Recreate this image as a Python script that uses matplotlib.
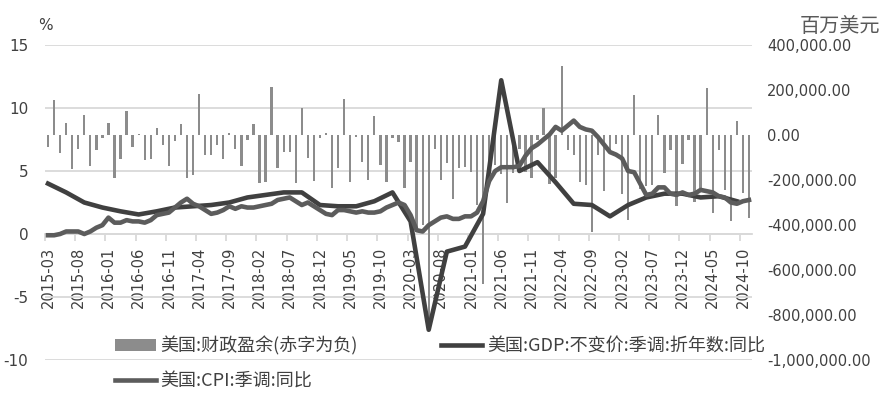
import matplotlib
matplotlib.use("Agg")
import matplotlib.pyplot as plt
from matplotlib.patches import Patch
from matplotlib.lines import Line2D
from matplotlib.ticker import FuncFormatter
import numpy as np
import pandas as pd

plt.rcParams['font.family'] = ['DejaVu Sans', 'Noto Sans CJK SC']
plt.rcParams['axes.unicode_minus'] = False

# monthly categories 2015-03 .. 2024-11
months = pd.period_range('2015-03', '2024-11', freq='M').strftime('%Y-%m').tolist()

# US fiscal balance, million USD (deficit negative)
fiscal = [
    -53000, 157000, -82000, 52000, -149000, -64000, 91000, -137000, -65000, -14000,
    55000, -193000, -108000, 106000, -53000, 6000, -113000, -107000, 33000, -45000, -137000, -27000,
    51000, -192000, -176000, 182000, -88000, -90000, -43000, -108000, 8000, -63000, -139000, -23000,
    49000, -215000, -209000, 214000, -147000, -75000, -77000, -214000, 119000, -100000, -205000, -14000,
    9000, -234000, -147000, 160000, -208000, -8000, -120000, -200000, 83000, -134000, -209000, -13000,
    -33000, -235000, -119000, -430000, -399000, -864000, -63000, -200000, -125000, -284000, -145000, -144000,
    -163000, -311000, -660000, -226000, -132000, -174000, -302000, -171000, -62000, -165000, -191000, -21000,
    119000, -217000, -193000, 308000, -66000, -89000, -211000, -220000, -430000, -88000, -249000, -85000,
    -39000, -262000, -378000, 176000, -240000, -228000, -221000, 89000, -170000, -67000, -314000, -129000,
    -22000, -296000, -236000, 210000, -347000, -66000, -244000, -380000, 64000, -257000, -367000,
]

# US real GDP yoy, quarterly (Mar/Jun/Sep/Dec), %
gdp_q = [
    4.0, 3.3, 2.5, 2.1,
    1.8, 1.55, 1.8, 2.1,
    2.2, 2.3, 2.5, 2.9,
    3.1, 3.3, 3.3, 2.3,
    2.2, 2.2, 2.6, 3.3,
    1.0, -7.6, -1.4, -1.0,
    1.6, 12.2, 5.0, 5.7,
    4.1, 2.4, 2.3, 1.4,
    2.3, 2.9, 3.2, 3.2,
    2.9, 3.0, 2.6,
]

# US CPI yoy (SA), monthly, %
cpi = [
    -0.1, -0.1, 0.0, 0.2, 0.2, 0.2, 0.0, 0.2, 0.5, 0.7,
    1.3, 0.9, 0.9, 1.1, 1.0, 1.0, 0.9, 1.1, 1.5, 1.6, 1.7, 2.1,
    2.5, 2.8, 2.4, 2.2, 1.9, 1.6, 1.7, 1.9, 2.2, 2.0, 2.2, 2.1,
    2.1, 2.2, 2.3, 2.4, 2.7, 2.8, 2.9, 2.6, 2.3, 2.5, 2.2, 1.9,
    1.6, 1.5, 1.9, 1.9, 1.8, 1.7, 1.8, 1.7, 1.7, 1.8, 2.1, 2.3,
    2.5, 2.3, 1.5, 0.3, 0.2, 0.7, 1.0, 1.3, 1.4, 1.2, 1.2, 1.4,
    1.4, 1.7, 2.6, 4.2, 5.0, 5.3, 5.3, 5.3, 5.4, 6.2, 6.8, 7.1,
    7.5, 7.9, 8.5, 8.2, 8.6, 9.0, 8.5, 8.3, 8.2, 7.7, 7.1, 6.5,
    6.3, 6.0, 5.0, 4.9, 4.0, 3.1, 3.2, 3.7, 3.7, 3.2, 3.1, 3.3,
    3.1, 3.2, 3.5, 3.4, 3.3, 3.0, 2.9, 2.5, 2.4, 2.6, 2.7,
]

x = np.arange(len(months))
gdp_x = [i for i, m in enumerate(months) if m[-2:] in ('03', '06', '09', '12')][:len(gdp_q)]

W, H = 883, 397
fig = plt.figure(figsize=(W / 100, H / 100), dpi=100)
ax = fig.add_axes([45 / W, 1 - 360 / H, 707 / W, 315 / H])

grid_c = '#d9d9d9'
txt_c = '#404040'

# left axis: grid + category axis at 0
ax.set_xlim(-0.5, len(months) - 0.5)
ax.set_ylim(-10, 15)
ax.set_yticks(range(-10, 16, 5))
ax.yaxis.grid(True, color=grid_c, lw=1.3)
ax.set_axisbelow(True)
for s in ['top', 'left', 'right']:
    ax.spines[s].set_visible(False)
ax.spines['bottom'].set_position(('data', 0))
ax.spines['bottom'].set_color(grid_c)
ax.spines['bottom'].set_linewidth(1.3)
ax.tick_params(axis='y', length=0, pad=12, labelsize=11, labelcolor=txt_c)

ax.set_xticks(x[::5])
ax.set_xticklabels(months[::5], rotation=90)
ax.set_xticks(x[::5] - 0.5, minor=True)
ax.tick_params(axis='x', which='major', length=0, pad=9, labelsize=10.5, labelcolor=txt_c)
ax.tick_params(axis='x', which='minor', length=5, width=1.3, color=grid_c)

# right axis: fiscal balance bars
ax2 = ax.twinx()
ax2.bar(x, fiscal, width=0.38, color='#8c8c8c', zorder=2)
ax2.set_ylim(-1000000, 400000)
ax2.set_yticks(range(-1000000, 400001, 200000))
ax2.yaxis.set_major_formatter(FuncFormatter(lambda v, p: f'{v:,.2f}'))
ax2.tick_params(axis='y', length=0, pad=11, labelsize=10.5, labelcolor=txt_c)
for s in ax2.spines.values():
    s.set_visible(False)

# lines on top
ax3 = ax.twinx()
ax3.set_ylim(ax.get_ylim())
ax3.set_yticks([])
for s in ax3.spines.values():
    s.set_visible(False)
ax3.plot(gdp_x, gdp_q, color='#404040', lw=3.3, solid_joinstyle='round', zorder=3)
ax3.plot(x, cpi, color='#5c5c5c', lw=3.3, solid_joinstyle='round', zorder=4)

fig.text(45 / W, 1 - 25 / H, '%', ha='center', va='center', fontsize=11, color=txt_c)
fig.text(880 / W, 1 - 27 / H, '百万美元', ha='right', va='center', fontsize=14.5,
         color='#595959', family=['Noto Sans CJK SC'])

handles = [
    Patch(facecolor='#8c8c8c', edgecolor='none'),
    Line2D([], [], color='#5c5c5c', lw=3.3),
    Line2D([], [], color='#404040', lw=3.3),
]
labels = ['美国:财政盈余(赤字为负)', '美国:CPI:季调:同比', '美国:GDP:不变价:季调:折年数:同比']
fig.legend(handles, labels, ncol=2, loc='upper left', bbox_to_anchor=(106 / W, 1 - 327 / H),
           frameon=False, borderpad=0, handlelength=2.25, handletextpad=0.28,
           columnspacing=4.6, labelspacing=0.95,
           prop={'family': ['Noto Sans CJK SC'], 'size': 13}, labelcolor=txt_c)

fig.savefig('out.png', dpi=100)
